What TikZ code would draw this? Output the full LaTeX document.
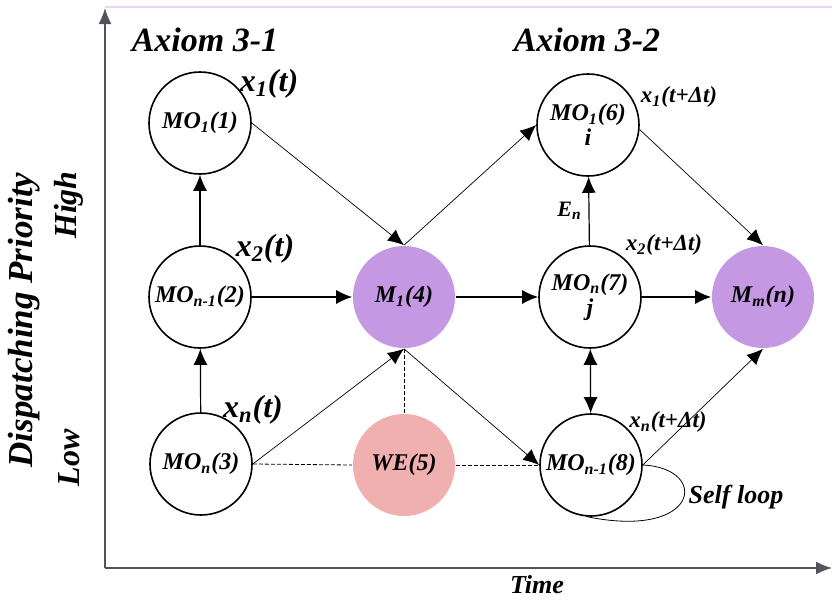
\documentclass[tikz,border=0pt]{standalone}
\usepackage{fontspec}
\setmainfont{Liberation Serif}
\usetikzlibrary{arrows.meta}

\definecolor{machinefill}{RGB}{196,152,226}
\definecolor{wefill}{RGB}{240,176,176}
\definecolor{framelav}{RGB}{232,214,242}
\definecolor{axisgray}{RGB}{85,82,92}

\newcommand{\lowsub}[1]{\textsubscript{#1}}

\tikzset{
  mostate/.style={circle, draw, line width=0.8pt, minimum size=51pt, inner sep=0pt,
    align=center, font=\bfseries\itshape\fontsize{12}{12.5}\selectfont},
  machine/.style={mostate, draw=none, fill=machinefill},
  bigarrow/.style={line width=0.6pt, -{Latex[length=8pt,width=7pt]}},
  thinarrow/.style={line width=0.35pt, -{Latex[length=8pt,width=7pt]}},
  weaklink/.style={line width=0.4pt, dash pattern=on 2pt off 1pt},
  axis/.style={axisgray, line width=0.8pt, -{Latex[length=8pt,width=6.5pt]}},
  biglabel/.style={font=\bfseries\itshape\fontsize{16}{17}\selectfont},
  smalllabel/.style={font=\bfseries\itshape\fontsize{11.5}{12}\selectfont},
  sidelabel/.style={rotate=90, font=\bfseries\itshape\fontsize{16}{17}\selectfont},
  title/.style={font=\bfseries\itshape\fontsize{17}{18}\selectfont},
}

\begin{document}
\begin{tikzpicture}[x=0.5pt, y=-0.5pt]
  \useasboundingbox (0,0) rectangle (832,600);
  % frame line and the two axes
  \draw[framelav, line width=0.8pt] (105,7) -- (832,7);
  \coordinate (origin) at (105,568);
  \coordinate (ytip) at (105,8);
  \coordinate (xtip) at (832,568);
  \draw[axis] (origin) -- (ytip);
  \draw[axis] (origin) -- (xtip);
  \node[font=\bfseries\itshape\fontsize{13}{14}\selectfont] (timelbl) at (537,585) {Time};
  \node[sidelabel, font=\bfseries\itshape\fontsize{17.5}{18}\selectfont] (prio) at (24,320) {Dispatching Priority};
  \node[sidelabel] (high) at (69,205) {High};
  \node[sidelabel] (low) at (69,458) {Low};
  % axiom titles
  \node[title] (ax1) at (205,40) {Axiom 3-1};
  \node[title] (ax2) at (587,40) {Axiom 3-2};
  % states at time t
  \node[mostate] (mo1) at (200,123) {MO\lowsub{1}(1)};
  \node[mostate] (mo2) at (200,297) {MO\lowsub{n-1}(2)};
  \node[mostate] (mo3) at (201,464) {MO\lowsub{n}(3)};
  % machines and the weak element
  \node[machine] (m4) at (404,297) {M\lowsub{1}(4)};
  \node[mostate, draw=none, fill=wefill] (we5) at (404,465) {WE(5)};
  \node[machine] (mmn) at (763,297) {M\lowsub{m}(n)};
  % states at time t+dt
  \node[mostate] (mo6) at (588,125) {MO\lowsub{1}(6)\\i};
  \node[mostate] (mo7) at (590,297) {MO\lowsub{n}(7)\\j};
  \node[mostate] (mo8) at (591,465) {MO\lowsub{n-1}(8)};
  % state labels
  \node[biglabel] (lx1) at (269,84) {x\lowsub{1}(t)};
  \node[biglabel] (lx2) at (265,249) {x\lowsub{2}(t)};
  \node[biglabel] (lxn) at (253,410) {x\lowsub{n}(t)};
  \node[smalllabel] (lx1d) at (679,97) {x\lowsub{1}(t+Δt)};
  \node[smalllabel] (lx2d) at (664,245) {x\lowsub{2}(t+Δt)};
  \node[smalllabel] (lxnd) at (668,422) {x\lowsub{n}(t+Δt)};
  % priority moves and machine links
  \draw[bigarrow] (mo3) -- (mo2);
  \draw[bigarrow] (mo2) -- (mo1);
  \draw[bigarrow] (mo2) -- (m4);
  \draw[bigarrow] (m4) -- (mo7);
  \draw[bigarrow] (mo7) -- (mmn);
  \draw[bigarrow] (mo7) -- node[left, font=\bfseries\itshape\fontsize{11}{12}\selectfont] {E\lowsub{n}} (mo6);
  \draw[line width=0.6pt, {Latex[length=8pt,width=7pt]}-{Latex[length=8pt,width=7pt]}] (mo7) -- (mo8);
  \draw[thinarrow] (mo1.east) -- (m4.north);
  \draw[thinarrow] (mo3.east) -- (m4.south);
  \draw[thinarrow] (m4.north) -- (mo6.west);
  \draw[thinarrow] (m4.south) -- (mo8.west);
  \draw[thinarrow] (mo6.-5) -- (mmn.north);
  \draw[thinarrow] (mo8.east) -- (mmn.south);
  % weak element links
  \draw[weaklink] (mo3.east) -- (we5.west);
  \draw[weaklink] (we5.east) -- (mo8.west);
  \draw[weaklink] (m4.south) -- (we5.north);
  % self loop
  \draw[line width=0.4pt] (mo8.east) .. controls (710,468) and (700,540) .. (mo8.-95);
  \node[font=\bfseries\itshape\fontsize{13}{14}\selectfont] (selflbl) at (736,497) {Self loop};
\end{tikzpicture}
\end{document}
